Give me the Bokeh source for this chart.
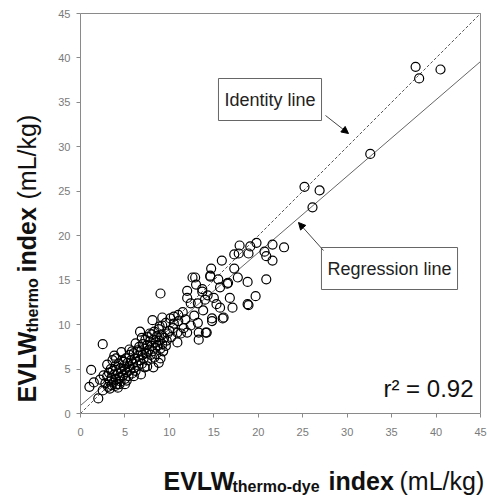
import math
from bokeh.plotting import figure
from bokeh.models import Range1d, Label, Arrow, NormalHead, FixedTicker, LinearAxis
from bokeh.embed import file_html
from bokeh.resources import INLINE

# ---- data ----
evlw_thermo_dye = [
    # dense cluster
    2.8, 3.0, 3.1, 3.2, 3.3, 3.4, 3.5, 3.5, 3.6, 3.7, 3.8, 3.9, 4.0, 4.0, 4.1, 4.2, 4.3, 4.4, 4.5, 4.5,
    4.6, 4.7, 4.8, 4.9, 5.0, 5.0, 5.1, 5.2, 5.3, 5.4, 5.5, 5.5, 5.6, 5.7, 5.8, 5.9, 6.0, 6.0, 6.1, 6.2,
    6.3, 6.4, 6.5, 6.5, 6.6, 6.7, 6.8, 6.9, 7.0, 7.0, 7.1, 7.2, 7.3, 7.4, 7.5, 7.5, 7.6, 7.7, 7.8, 7.9,
    8.0, 8.0, 8.1, 8.2, 8.3, 8.4, 8.5, 8.5, 8.6, 8.7, 8.8, 8.9, 9.0, 9.1, 9.2, 9.4, 9.6, 9.8,
    3.3, 3.9, 4.4, 4.8, 5.2, 5.8, 6.2, 6.9, 7.2, 7.8, 8.3, 8.9, 9.3, 9.7, 10.2, 10.4, 11.8, 3.6, 2.6, 4.2,
    # low outliers
    2.5, 1.2, 1.0, 1.5, 2.0, 3.8, 4.6, 6.7, 6.8, 8.8, 9.0, 2.5, 2.2, 3.0, 4.0, 5.5, 6.0, 5.0, 7.5, 8.2,
    # middle group
    9.2, 10.5, 11.0, 10.9, 12.0, 10.9, 13.3, 14.1, 13.2, 14.8, 16.1, 17.1, 18.9, 9.0, 12.6, 12.0, 12.0,
    13.7, 14.6, 14.3, 13.2, 12.4, 15.7, 16.5, 14.8, 16.0, 15.7, 13.3, 14.2, 11.5, 10.1, 10.5, 11.6, 12.4,
    11.3, 9.2, 8.1, 10.0, 9.6, 11.0, 12.8, 13.8, 14.0, 13.0, 15.0, 15.3,
    # upper group
    22.9, 21.6, 21.6, 20.7, 20.9, 19.8, 19.1, 18.9, 17.9, 17.8, 17.3, 15.9, 17.3, 14.7, 14.6, 15.5, 16.6,
    17.7, 18.8, 20.9, 19.7, 18.8, 16.8, 13.7, 12.9,
    # top
    37.7, 38.1, 40.5, 32.6, 25.2, 26.9, 26.1,
]
evlw_thermo = [
    3.4, 4.2, 3.0, 4.6, 3.6, 5.0, 3.2, 4.0, 4.8, 3.5, 4.4, 5.3, 3.8, 4.9, 3.3, 4.5, 5.6, 4.0, 5.1, 3.6,
    4.7, 6.0, 4.3, 5.4, 3.9, 5.0, 6.2, 4.6, 5.7, 4.2, 5.3, 6.6, 4.9, 6.0, 4.5, 5.6, 6.8, 5.1, 6.2, 4.8,
    5.8, 7.1, 5.4, 6.5, 7.5, 6.0, 7.0, 5.6, 6.6, 7.8, 6.2, 7.3, 8.3, 6.8, 7.7, 6.0, 8.6, 7.2, 8.1, 6.6,
    7.6, 8.9, 7.0, 8.3, 9.2, 7.4, 8.0, 6.7, 8.7, 7.6, 9.5, 8.2, 7.3, 8.8, 7.8, 8.5, 7.6, 9.0,
    2.8, 3.1, 3.3, 5.8, 3.7, 7.0, 7.9, 8.5, 5.2, 9.0, 6.3, 9.8, 7.0, 8.2, 8.6, 9.6, 10.6, 6.0, 4.3, 2.9,
    7.8, 4.9, 3.0, 3.5, 1.7, 6.5, 6.9, 9.2, 4.4, 5.7, 6.2, 2.6, 3.8, 5.5, 6.2, 7.2, 4.2, 3.3, 5.3, 5.2,
    10.8, 10.9, 11.1, 9.1, 9.1, 8.0, 8.3, 9.1, 10.2, 10.4, 10.8, 11.9, 12.2, 13.5, 15.3, 13.8, 13.0,
    13.7, 15.5, 13.3, 12.4, 12.4, 14.2, 14.6, 10.7, 10.7, 11.9, 9.1, 9.1, 11.4, 10.7, 10.1, 9.6, 9.9,
    9.0, 9.9, 10.5, 9.3, 10.2, 10.4, 11.0, 11.6, 12.8, 14.5, 13.0, 12.3,
    18.7, 19.0, 17.2, 18.2, 17.7, 19.2, 18.8, 18.0, 18.9, 18.0, 17.9, 17.2, 16.3, 16.3, 15.4, 15.1, 14.7,
    15.3, 14.8, 15.1, 13.2, 12.3, 13.0, 14.0, 15.3,
    39.0, 37.7, 38.7, 29.2, 25.5, 25.1, 23.2,
]
tick_values = [0, 5, 10, 15, 20, 25, 30, 35, 40, 45]
reg_slope = 0.86
reg_intercept = 0.9
r_squared = "0.92"

# ---- layout: the plot box (0..45) sits at pixels 80..480 x 13..413 of a 487x501 canvas ----
W, H = 487, 501
L, T, FW, FH = 80, 13, 400, 400
lo, hi = tick_values[0], tick_values[-1]
unit = (hi - lo) / FW
def dx(px):
    return lo + (px - L) * unit
def dy(py):
    return lo + (T + FH - py) * unit

FONT = "Liberation Sans"
GREY = "#8a8a8a"

p = figure(width=W, height=H, x_range=Range1d(dx(0), dx(W)), y_range=Range1d(dy(H), dy(0)),
           output_backend="svg", toolbar_location=None,
           min_border=0, min_border_left=0, min_border_right=0, min_border_top=0, min_border_bottom=0)
p.grid.visible = False
p.outline_line_color = None
p.background_fill_color = "white"
p.border_fill_color = "white"

for ax in (p.xaxis[0], p.yaxis[0]):
    ax.fixed_location = lo
    ax.bounds = (lo, hi)
    ax.ticker = FixedTicker(ticks=tick_values)
    ax.axis_line_color = GREY
    ax.major_tick_line_color = GREY
    ax.major_tick_out = 4
    ax.major_tick_in = 0
    ax.minor_tick_line_color = None
    ax.major_label_text_font = FONT
    ax.major_label_text_font_size = "11px"
    ax.major_label_text_color = "#7a7a7a"
p.xaxis[0].major_label_standoff = 10
p.yaxis[0].major_label_standoff = 6

# top and right edges of the plot box
for side in ("above", "right"):
    ax = LinearAxis(fixed_location=hi, bounds=(lo, hi), axis_line_color=GREY,
                    major_tick_line_color=None, minor_tick_line_color=None,
                    major_label_text_color=None, major_label_text_font_size="1px")
    p.add_layout(ax, side)

# identity & regression lines across the plot box
line_x = [lo, hi]
p.line(line_x, line_x, line_color="#555555", line_width=1, line_dash="3 2")
p.line(line_x, [reg_slope * v + reg_intercept for v in line_x], line_color="#666666", line_width=1)

p.scatter(evlw_thermo_dye, evlw_thermo, marker="circle", size=9, fill_color=None,
          line_color="black", line_width=1.2)

# callout boxes
for txt, cx, cy in (("Identity line", dx(269.5), dy(99)), ("Regression line", dx(389), dy(268))):
    p.add_layout(Label(x=cx, y=cy, text=txt, text_align="center", text_baseline="middle",
                       text_font=FONT, text_font_size="18px", text_color="#222222",
                       border_line_color="#666666", border_line_width=1,
                       background_fill_color="white", padding=(6, 11)))

p.add_layout(Arrow(end=NormalHead(size=7, fill_color="black", line_color="black"),
                   x_start=dx(325), y_start=dy(115), x_end=dx(348), y_end=dy(133),
                   line_color="#444444", line_width=1))
p.add_layout(Arrow(end=NormalHead(size=7, fill_color="black", line_color="black"),
                   x_start=dx(323), y_start=dy(250), x_end=dx(298), y_end=dy(222),
                   line_color="#444444", line_width=1))

p.add_layout(Label(x=dx(473), y=dy(388), text="r\u00b2 = " + r_squared, text_align="right",
                   text_baseline="alphabetic", text_font=FONT, text_font_size="24px",
                   text_color="#111111"))

# x axis title pieces
xt = [("EVLW", 163, 480, "bold", "25px"), ("thermo-dye", 232, 486, "bold", "16px"),
      ("index", 328, 480, "bold", "25px"), ("(mL/kg)", 399, 480, "normal", "25px")]
for txt, px, py, fs, sz in xt:
    p.add_layout(Label(x=dx(px), y=dy(py), text=txt, text_align="left", text_baseline="alphabetic",
                       text_font=FONT, text_font_style=fs, text_font_size=sz, text_color="#111111"))

# y axis title pieces (rotated)
yt = [("EVLW", 26, 402, "bold", "25px"), ("thermo", 32, 332, "bold", "16px"),
      ("index", 26, 272, "bold", "25px"), ("(mL/kg)", 26, 199, "normal", "25px")]
for txt, px, py, fs, sz in yt:
    p.add_layout(Label(x=dx(px), y=dy(py), text=txt, angle=math.pi / 2, text_align="left",
                       text_baseline="alphabetic", text_font=FONT, text_font_style=fs,
                       text_font_size=sz, text_color="#111111"))

open("out.html", "w").write(file_html(p, INLINE))
